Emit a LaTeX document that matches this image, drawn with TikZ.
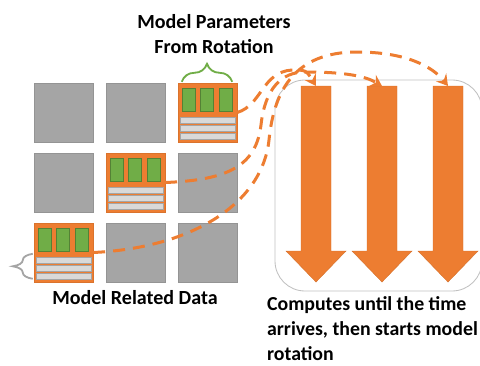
\documentclass[tikz,border=0pt]{standalone}
\usepackage{fontspec}
\setmainfont{Carlito}
\usepackage{xcolor}
\usetikzlibrary{arrows.meta,positioning,calc,decorations.pathreplacing}

\definecolor{offorange}{HTML}{ED7D31}
\definecolor{offgreen}{HTML}{70AD47}
\definecolor{greenedge}{HTML}{548235}
\definecolor{cellgray}{HTML}{A5A5A5}
\definecolor{bargray}{HTML}{D9D9D9}
\definecolor{framegray}{HTML}{C0C0C0}

\begin{document}
\begin{tikzpicture}[x=0.05cm,y=-0.05cm,
  cell/.style={draw=cellgray!90!black,fill=cellgray,minimum size=2.95cm,inner sep=0pt,line width=0.6pt},
  pblock/.style={cell,draw=offorange!92!black,fill=offorange},
  param/.style={draw=greenedge,fill=offgreen,line width=0.7pt},
  bar/.style={draw=cellgray,fill=bargray,line width=0.7pt},
  link/.style={offorange,line width=0.15cm,dash pattern=on 0.6cm off 0.4cm,
    -{Stealth[length=0.55cm,width=0.65cm,inset=0.2cm]}},
  worker/.style={fill=offorange,draw=offorange!90!black,line width=0.6pt},
  caption/.style={font=\fontsize{28.5}{36}\selectfont\bfseries,inner sep=0pt}]
\useasboundingbox (0,0) rectangle (480,365);
% worker frame and compute arrows
\draw[framegray,line width=1.2pt,rounded corners=1.5cm] (275,80) rectangle (482,291);
\foreach \x [count=\i] in {316,382,448} {
  \draw[worker] ({\x-15},86) -- ({\x+15},86) -- ({\x+15},251) -- ({\x+30},251)
    -- (\x,282) -- ({\x-30},251) -- ({\x-15},251) -- cycle;
  \coordinate (t\i) at (\x,86);
}
% data grid
\foreach \c/\r in {1/1,2/1,1/2,3/2,2/3,3/3}
  \node[cell] (c\c\r) at ({63.5+72*(\c-1)},{112.5+70*(\r-1)}) {};
\node[pblock] (pA) at (207.5,112.5) {};
\node[pblock] (pB) at (135.5,182.5) {};
\node[pblock] (pC) at (63.5,252.5) {};
\foreach \b in {pA,pB,pC} {
  \foreach \dx in {4,22,41}
    \draw[param] ($(\b.north west)+(\dx,5)$) rectangle +(13,23);
  \foreach \dy in {34,42,50}
    \draw[bar] ($(\b.north west)+(2,\dy)$) rectangle +(55,6);
}
% braces
\draw[offgreen,line width=2.6pt,decorate,decoration={brace,amplitude=0.9cm}]
  ($(pA.north west)+(4,-1)$) -- ($(pA.north east)+(-5,-1)$);
\draw[cellgray,line width=2.6pt,decorate,decoration={brace,amplitude=1cm}]
  ($(pC.north west)+(-1,56)$) -- ($(pC.north west)+(-1,31)$);
% rotation links
\draw[link] (pA.east) .. controls (262,105) and (262,72) .. (292,70) .. controls (306,70) .. (t1);
\draw[link] (pB.east) .. controls (230,180) and (256,165) .. (261,125)
  .. controls (265,88) and (282,72) .. (305,72) .. controls (345,72) and (365,76) .. (t2);
\draw[link] (pC.east) .. controls (190,248) and (262,205) .. (269,140)
  .. controls (274,90) and (295,52) .. (357,52) .. controls (405,52) and (432,66) .. (t3);
% labels
\node[caption,align=center] (ttl) at (214,34) {Model Parameters\\From Rotation};
\node[caption,anchor=base] (lbl) at (135,304) {Model Related Data};
\node[caption,font=\fontsize{28.2}{36}\selectfont\bfseries,anchor=north west,align=left] (cmp) at (267,296)
  {Computes until the time\\arrives, then starts model\\rotation};
\end{tikzpicture}
\end{document}
